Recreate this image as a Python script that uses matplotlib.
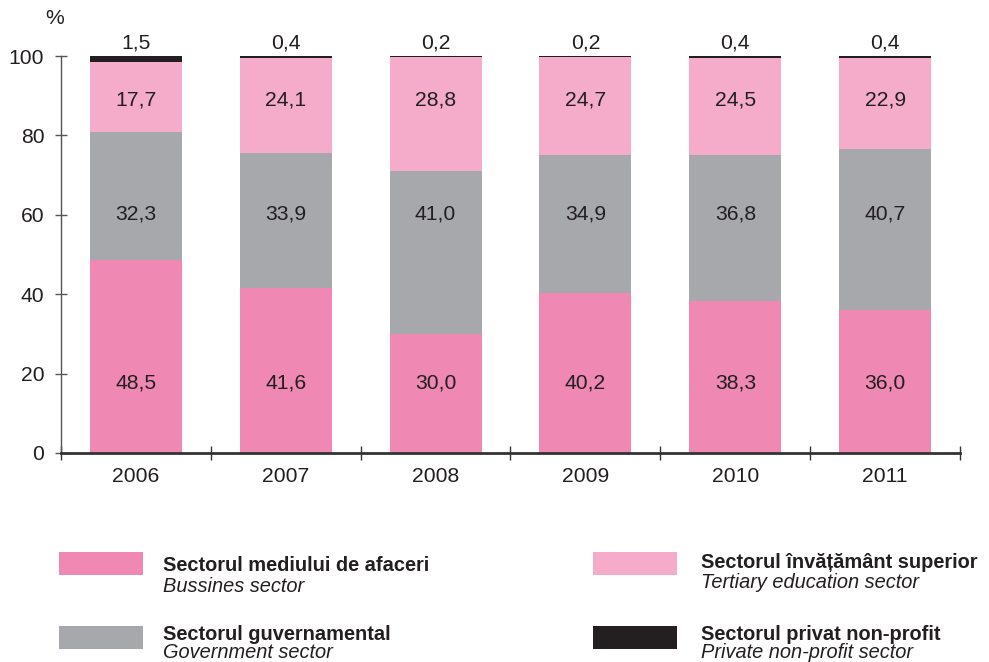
import matplotlib.pyplot as plt
import numpy as np

plt.rcParams['font.family'] = ['Liberation Sans', 'DejaVu Sans']

years = ['2006', '2007', '2008', '2009', '2010', '2011']
business = [48.5, 41.6, 30.0, 40.2, 38.3, 36.0]
government = [32.3, 33.9, 41.0, 34.9, 36.8, 40.7]
tertiary = [17.7, 24.1, 28.8, 24.7, 24.5, 22.9]
nonprofit = [1.5, 0.4, 0.2, 0.2, 0.4, 0.4]

c_bus = '#f088b4'
c_gov = '#a7a8ab'
c_ter = '#f4acca'
c_np = '#231f20'
txt = '#231f20'
fs = 15.2

fig = plt.figure(figsize=(9.89, 6.62), dpi=100)
ax = fig.add_axes([61 / 989, 209 / 662, 899 / 989, 397 / 662])

x = np.arange(len(years))
w = 0.613
# labels in the reference sit on fixed rows, not segment centres
label_rows = [17.6, 60.2, 89.0]
b0 = np.zeros(len(years))
series = [(business, c_bus), (government, c_gov), (tertiary, c_ter)]
for (vals, col), row in zip(series, label_rows):
    ax.bar(x, vals, w, bottom=b0, color=col, linewidth=0)
    for xi, v in zip(x, vals):
        ax.text(xi, row, f'{v:.1f}'.replace('.', ','), ha='center', va='center',
                fontsize=fs, color=txt)
    b0 = b0 + np.array(vals)
ax.bar(x, nonprofit, w, bottom=b0, color=c_np, linewidth=0)
for xi, v in zip(x, nonprofit):
    ax.text(xi, 103.3, f'{v:.1f}'.replace('.', ','), ha='center', va='center',
            fontsize=fs, color=txt, clip_on=False)

ax.set_xlim(-0.5, 5.5)
ax.set_ylim(0, 100)
for s in ['top', 'right']:
    ax.spines[s].set_visible(False)
ax.spines['left'].set_color('#555555')
ax.spines['left'].set_linewidth(1)
ax.spines['bottom'].set_color('#333333')
ax.spines['bottom'].set_linewidth(2)

ax.set_yticks([0, 20, 40, 60, 80, 100])
ax.tick_params(axis='y', direction='inout', length=8, width=1, color='#555555',
               labelsize=fs, labelcolor=txt, pad=8)
ax.set_xticks(x)
ax.set_xticklabels(years)
ax.tick_params(axis='x', which='major', length=0, labelsize=fs, labelcolor=txt, pad=10)
ax.set_xticks(np.arange(-0.5, 6, 1), minor=True)
ax.tick_params(axis='x', which='minor', direction='inout', length=10, width=1, color='#333333')

fig.text(55 / 989, 1 - 18 / 662, '%', ha='center', va='center', fontsize=fs, color=txt)

# patch x, patch top, colour, bold text, italic text, text x, bold baseline, italic baseline
legend = [
    (59, 552, c_bus, 'Sectorul mediului de afaceri', 'Bussines sector', 163, 571, 592),
    (59, 626, c_gov, 'Sectorul guvernamental', 'Government sector', 163, 640, 658),
    (593, 552, c_ter, 'Sectorul învățământ superior', 'Tertiary education sector', 701, 568, 588),
    (593, 626, c_np, 'Sectorul privat non-profit', 'Private non-profit sector', 701, 640, 658),
]
for lx, ly, col, t1, t2, tx, by1, by2 in legend:
    fig.patches.append(plt.Rectangle((lx / 989, 1 - (ly + 23) / 662), 84 / 989, 23 / 662,
                                     transform=fig.transFigure, color=col, linewidth=0))
    fig.text(tx / 989, 1 - by1 / 662, t1, fontsize=14.4, fontweight='bold',
             color=txt, va='baseline')
    fig.text(tx / 989, 1 - by2 / 662, t2, fontsize=14.4, style='italic',
             color=txt, va='baseline')

fig.savefig('out.png', dpi=100)
